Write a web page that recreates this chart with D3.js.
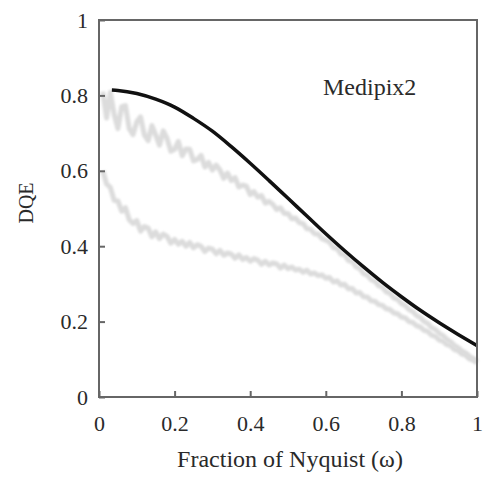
<!DOCTYPE html>
<html>
<head>
    <title>DQE Medipix2</title>
    <script src="https://d3js.org/d3.v7.min.js"></script>
    <style>
        body { margin: 0; background: #fff; }
        text { font-family: "Liberation Serif", "Times New Roman", serif; fill: #2a2a2a; }
        .axis path { display: none; }
        .axis line { stroke: #666; stroke-width: 2; }
        .axis text { font-size: 22px; }
    </style>
</head>
<body>
    <svg width="483" height="477"></svg>
    <script>
        // frequency grid (fraction of Nyquist) for the two measured curves
        const freq = [
            0.01,0.02,0.03,0.04,0.05,0.06,0.07,0.08,0.09,0.10,
            0.11,0.12,0.13,0.14,0.15,0.16,0.17,0.18,0.19,0.20,
            0.21,0.22,0.23,0.24,0.25,0.26,0.27,0.28,0.29,0.30,
            0.31,0.32,0.33,0.34,0.35,0.36,0.37,0.38,0.39,0.40,
            0.41,0.42,0.43,0.44,0.45,0.46,0.47,0.48,0.49,0.50,
            0.51,0.52,0.53,0.54,0.55,0.56,0.57,0.58,0.59,0.60,
            0.61,0.62,0.63,0.64,0.65,0.66,0.67,0.68,0.69,0.70,
            0.71,0.72,0.73,0.74,0.75,0.76,0.77,0.78,0.79,0.80,
            0.81,0.82,0.83,0.84,0.85,0.86,0.87,0.88,0.89,0.90,
            0.91,0.92,0.93,0.94,0.95,0.96,0.97,0.98,0.99,1.00
        ];

        // upper grey (measured) curve
        const dqeUpper = [
            0.81,0.74,0.808,0.75,0.712,0.77,0.773,0.712,0.696,0.73,
            0.743,0.695,0.68,0.72,0.695,0.668,0.706,0.686,0.652,0.657,
            0.678,0.64,0.658,0.657,0.626,0.63,0.641,0.61,0.622,0.602,
            0.615,0.602,0.58,0.594,0.574,0.582,0.557,0.562,0.559,0.537,
            0.545,0.53,0.534,0.514,0.519,0.511,0.497,0.502,0.487,0.487,
            0.473,0.475,0.462,0.46,0.446,0.445,0.433,0.432,0.42,0.416,
            0.411,0.396,0.394,0.379,0.377,0.362,0.359,0.345,0.341,0.327,
            0.323,0.311,0.307,0.295,0.291,0.279,0.275,0.263,0.259,0.248,
            0.243,0.232,0.227,0.216,0.211,0.200,0.195,0.184,0.179,0.169,
            0.163,0.153,0.147,0.137,0.131,0.122,0.117,0.108,0.102,0.095
        ];

        // lower grey (measured) curve
        const dqeLower = [
            0.60,0.565,0.556,0.522,0.52,0.493,0.502,0.47,0.46,0.468,
            0.44,0.452,0.448,0.425,0.438,0.42,0.432,0.426,0.408,0.418,
            0.405,0.413,0.40,0.41,0.396,0.404,0.40,0.386,0.395,0.392,
            0.38,0.389,0.376,0.382,0.379,0.368,0.377,0.365,0.37,0.36,
            0.367,0.363,0.352,0.36,0.35,0.356,0.353,0.342,0.35,0.34,
            0.345,0.337,0.339,0.331,0.336,0.326,0.329,0.322,0.324,0.315,
            0.317,0.305,0.308,0.297,0.299,0.287,0.288,0.276,0.277,0.266,
            0.265,0.255,0.254,0.245,0.243,0.234,0.232,0.223,0.221,0.212,
            0.21,0.20,0.198,0.189,0.186,0.177,0.174,0.164,0.161,0.151,
            0.148,0.139,0.136,0.126,0.123,0.114,0.111,0.101,0.098,0.09
        ];

        // black (model) curve
        const modelFreq = [0.034,0.05,0.10,0.15,0.20,0.25,0.30,0.35,0.40,0.45,0.50,0.55,0.60,0.65,0.70,0.75,0.80,0.85,0.90,0.95,1.00];
        const modelDqe  = [0.814,0.813,0.805,0.79,0.769,0.739,0.705,0.664,0.62,0.574,0.527,0.48,0.433,0.388,0.345,0.304,0.266,0.23,0.197,0.166,0.136];

        const xTicks = [0, 0.2, 0.4, 0.6, 0.8, 1];
        const yTicks = [0, 0.2, 0.4, 0.6, 0.8, 1];

        const svg = d3.select("svg");

        // soft edge for the noisy measured curves
        svg.append("defs").append("filter")
            .attr("id", "soft")
            .append("feGaussianBlur")
            .attr("stdDeviation", 0.9);

        const x = d3.scaleLinear().domain([0, 1]).range([99, 477]);
        const y = d3.scaleLinear().domain([0, 1]).range([397, 20]);

        const line = d3.line()
            .x(d => x(d[0]))
            .y(d => y(d[1]));

        // grey measured curves
        [dqeUpper, dqeLower].forEach(vals => {
            svg.append("path")
                .datum(freq.map((f, i) => [f, vals[i]]))
                .attr("fill", "none")
                .attr("stroke", "#dcdcdc")
                .attr("stroke-width", 5)
                .attr("stroke-linejoin", "round")
                .attr("filter", "url(#soft)")
                .attr("d", line);
        });

        // model curve
        svg.append("path")
            .datum(modelFreq.map((f, i) => [f, modelDqe[i]]))
            .attr("fill", "none")
            .attr("stroke", "#111")
            .attr("stroke-width", 3.5)
            .attr("d", line.curve(d3.curveMonotoneX));

        // axes, ticks pointing inwards
        svg.append("g")
            .attr("class", "axis")
            .attr("transform", "translate(0,397)")
            .call(d3.axisBottom(x).tickValues(xTicks).tickSize(-6).tickPadding(18).tickFormat(d3.format("")));

        svg.append("g")
            .attr("class", "axis")
            .attr("transform", "translate(99,0)")
            .call(d3.axisLeft(y).tickValues(yTicks).tickSize(-6).tickPadding(11).tickFormat(d3.format("")));

        // frame
        svg.append("rect")
            .attr("x", 99).attr("y", 20)
            .attr("width", 378).attr("height", 377)
            .attr("fill", "none")
            .attr("stroke", "#666")
            .attr("stroke-width", 2);

        svg.append("text")
            .attr("x", 290).attr("y", 467)
            .attr("text-anchor", "middle")
            .style("font-size", "24px")
            .text("Fraction of Nyquist (ω)");

        svg.append("text")
            .attr("transform", "translate(33,203) rotate(-90)")
            .attr("text-anchor", "middle")
            .style("font-size", "20px")
            .text("DQE");

        svg.append("text")
            .attr("x", 323).attr("y", 95)
            .style("font-size", "24px")
            .text("Medipix2");
    </script>
</body>
</html>
